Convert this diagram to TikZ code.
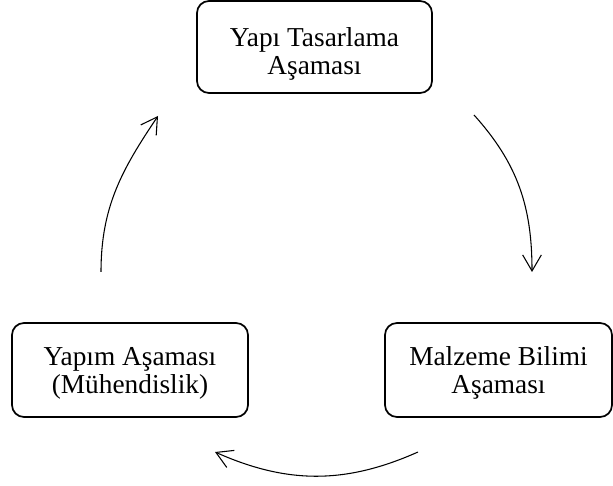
\documentclass[tikz,border=0pt]{standalone}
\usepackage{fontspec}
\setmainfont{Liberation Serif}
\usetikzlibrary{arrows.meta}
\begin{document}
\begin{tikzpicture}[x=0.75pt,y=0.75pt,
  stagebox/.style={draw, line width=1.3pt, rounded corners=9pt, inner sep=0pt},
  stagetext/.style={align=center, inner sep=0pt,
    font=\fontsize{20.5}{21}\selectfont},
  cyclearrow/.style={line width=0.8pt,
    -{Straight Barb[length=12pt,width=14pt,line width=0.8pt]}}]
  \useasboundingbox (0,0) rectangle (613,485);
  % the three stage frames
  \node[stagebox, minimum width=176.25pt, minimum height=69pt] (design) at (314.5,438) {};
  \node[stagebox, minimum width=170.25pt, minimum height=70.5pt] (material) at (498.5,115) {};
  \node[stagebox, minimum width=177pt, minimum height=70.5pt] (build) at (130,115) {};
  % stage titles
  \node[stagetext] (designtext) at ([yshift=-5pt]design.center) {Yapı Tasarlama\\Aşaması};
  \node[stagetext] (materialtext) at ([yshift=-2.25pt]material.center) {Malzeme Bilimi\\Aşaması};
  \node[stagetext] (buildtext) at ([yshift=-2.25pt]build.center) {Yapım Aşaması\\(Mühendislik)};
  % arc end points between the stages
  \coordinate (d1) at (474,370);
  \coordinate (m0) at (532,213);
  \coordinate (m1) at (418,33);
  \coordinate (b0) at (215,33);
  \coordinate (b1) at (101,213);
  \coordinate (d0) at (158,369);
  % the cycle
  \draw[cyclearrow] (d1) to[out=-48,in=90] (m0);
  \draw[cyclearrow] (m1) to[out=204,in=-24] (b0);
  \draw[cyclearrow] (b1) to[out=90,in=236] (d0);
\end{tikzpicture}
\end{document}
